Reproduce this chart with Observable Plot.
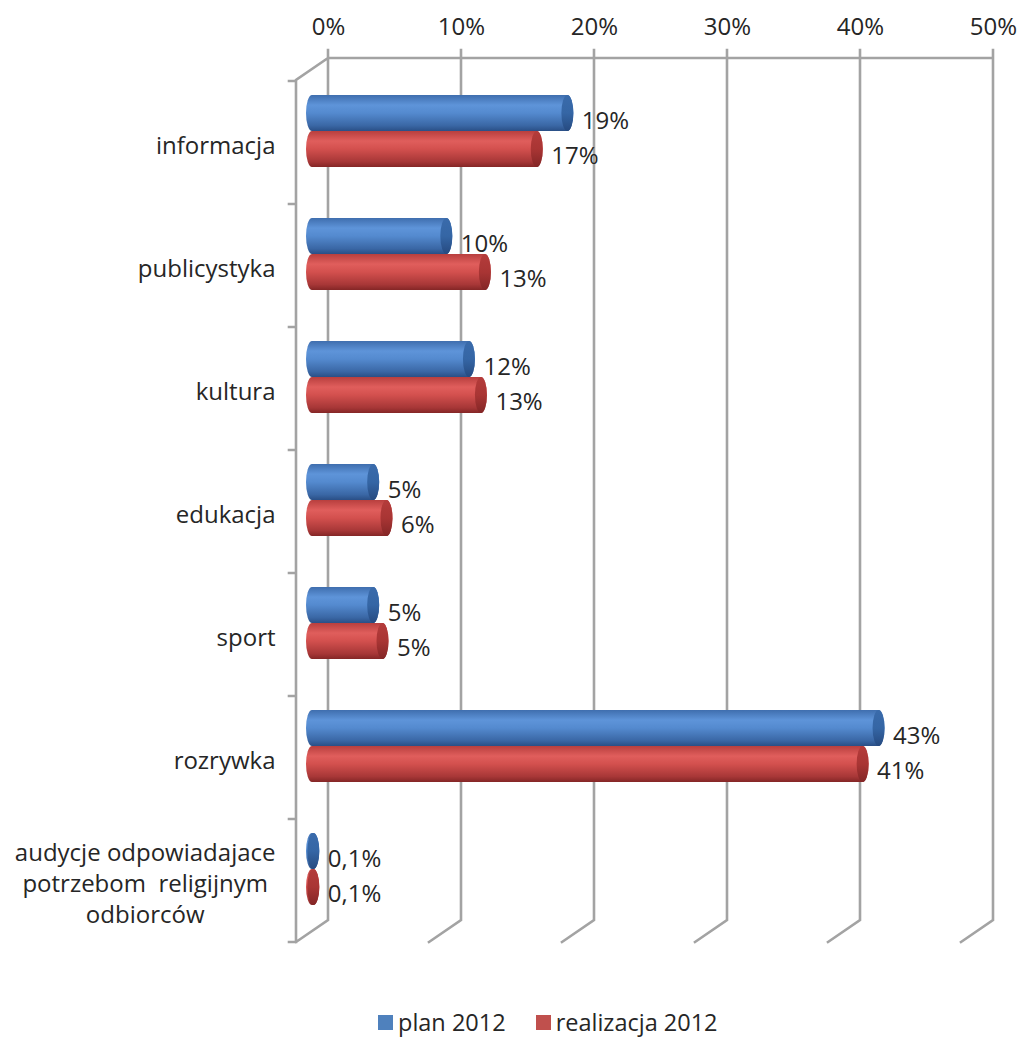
<!DOCTYPE html>
<html>
<head>
<meta charset="utf-8">
<script src="https://cdn.jsdelivr.net/npm/d3@7"></script>
<script src="https://cdn.jsdelivr.net/npm/@observablehq/plot@0.6"></script>
<style>
  html, body { margin: 0; padding: 0; background: #fff; overflow: hidden; }
  #wrap { position: relative; width: 1019px; height: 1037px; font-family: "Open Sans", sans-serif; }
  #legend { position: absolute; left: 0; top: 1008px; width: 1019px; height: 28px; display: flex; align-items: center;
            padding-left: 378px; box-sizing: border-box; font-size: 23.5px; color: #262626; line-height: 28px; }
  .item { display: flex; align-items: center; margin-right: 30px; }
  .item span { display: inline-block; height: 28px; line-height: 28px; }
  .sw { width: 15px; height: 15px; margin-right: 5px; }
</style>
</head>
<body>
<div id="wrap">
  <div id="chart"></div>
  <div id="legend"></div>
</div>
<script>
// ---- data ----
const categories = [
  "informacja",
  "publicystyka",
  "kultura",
  "edukacja",
  "sport",
  "rozrywka",
  "audycje odpowiadajace\npotrzebom  religijnym\nodbiorców"
];
const plan2012 = [19.2, 10.1, 11.8, 4.6, 4.6, 42.6, 0.1];
const realizacja2012 = [16.9, 13.0, 12.7, 5.6, 5.3, 41.4, 0.1];
const xTicks = [0, 10, 20, 30, 40, 50];
const seriesNames = ["plan 2012", "realizacja 2012"];
const seriesColors = ["#4f81bd", "#c0504d"];

// ---- helpers ----
const planRows = categories.map((c, i) => ({cat: c, v: plan2012[i]}));
const realRows = categories.map((c, i) => ({cat: c, v: realizacja2012[i]}));
const fmt = v => (v < 1 ? String(v).replace(".", ",") : String(Math.round(v))) + "%";

const DX = 16, DY = 11;       // half depth of the 3D box
const FONT = 24;
const TEXT = "#262626";
const GRID = "#a3a3a3";

function defsMark() {
  const defs = d3.create("svg:defs");
  const grad = (id, stops) => {
    const g = defs.append("linearGradient").attr("id", id)
      .attr("x1", 0).attr("y1", 0).attr("x2", 0).attr("y2", 1);
    stops.forEach(([o, c]) => g.append("stop").attr("offset", o).attr("stop-color", c));
  };
  grad("gBlue", [[0, "#3f6eae"], [0.28, "#5e94d9"], [0.5, "#548acf"], [0.85, "#3a67a5"], [1, "#2a4f86"]]);
  grad("gRed", [[0, "#b83f3e"], [0.28, "#e05e5c"], [0.5, "#d3504e"], [0.85, "#a73737"], [1, "#842626"]]);
  grad("gBlueCap", [[0, "#3a6bab"], [0.5, "#3566a5"], [1, "#264a80"]]);
  grad("gRedCap", [[0, "#b43c3b"], [0.5, "#a93534"], [1, "#832626"]]);
  return defs.node();
}

function frameMark(index, scales, values, dimensions) {
  const {x, y} = scales;
  const top = dimensions.marginTop;
  const bottom = dimensions.height - dimensions.marginBottom;
  const g = d3.create("svg:g")
    .attr("fill", "none").attr("stroke", GRID).attr("stroke-width", 2.6)
    .attr("stroke-linecap", "square");
  const x0 = x(xTicks[0]), xN = x(xTicks[xTicks.length - 1]);
  let d = "";
  d += `M${x0 + DX},${top - DY}H${xN + DX}`;
  for (const t of xTicks) {
    d += `M${x(t) + DX},${top - DY - 8}V${bottom - DY}L${x(t) - DX},${bottom + DY}`;
  }
  d += `M${x0 + DX},${top - DY}L${x0 - DX},${top + DY}V${bottom + DY}`;
  const bounds = categories.map(c => y(c)).concat([bottom]);
  for (const b of bounds) d += `M${x0 - DX - 7},${b + DY}H${x0 - DX}`;
  g.append("path").attr("d", d);
  return g.node();
}

const ctx = document.createElement("canvas").getContext("2d");
ctx.font = `${FONT}px "Open Sans"`;
const lastLines = categories[categories.length - 1].split("\n");
const maxW = Math.max(...lastLines.map(l => ctx.measureText(l).width));

const inset = {
  plan: {insetTop: 25, insetBottom: 62},
  real: {insetTop: 61, insetBottom: 26}
};
const cyl = {insetLeft: -6, insetRight: -6, rx: 6, ry: 18};

const chart = Plot.plot({
  width: 1019,
  height: 990,
  marginTop: 69,
  marginBottom: 59,
  marginLeft: 312,
  marginRight: 42,
  x: {domain: [0, 50], label: null},
  y: {domain: categories, padding: 0, axis: null, label: null},
  style: {fontFamily: '"Open Sans", sans-serif', fontSize: FONT + "px", color: TEXT, background: "white"},
  marks: [
    defsMark,
    frameMark,
    Plot.axisX({anchor: "top", ticks: xTicks, tickFormat: d => d + "%", tickSize: 0, label: null,
                tickPadding: 24, dx: DX, dy: -DY, fontSize: FONT, color: TEXT}),
    Plot.barX(planRows, {y: "cat", x: "v", ...inset.plan, ...cyl, fill: "url(#gBlue)"}),
    Plot.barX(planRows, {y: "cat", x1: "v", x2: "v", ...inset.plan, ...cyl, fill: "url(#gBlueCap)"}),
    Plot.barX(realRows, {y: "cat", x: "v", ...inset.real, ...cyl, fill: "url(#gRed)"}),
    Plot.barX(realRows, {y: "cat", x1: "v", x2: "v", ...inset.real, ...cyl, fill: "url(#gRedCap)"}),
    Plot.text(planRows, {y: "cat", x: "v", text: d => fmt(d.v), textAnchor: "start", dx: 14, dy: -11,
                         fontSize: FONT, fill: TEXT}),
    Plot.text(realRows, {y: "cat", x: "v", text: d => fmt(d.v), textAnchor: "start", dx: 14, dy: 24,
                         fontSize: FONT, fill: TEXT}),
    Plot.text(categories.slice(0, -1), {y: d => d, frameAnchor: "left", textAnchor: "end", dx: -37, dy: 14,
                                         fontSize: FONT, fill: TEXT}),
    Plot.text(categories.slice(-1), {y: d => d, frameAnchor: "left", textAnchor: "middle",
                                      dx: -37 - maxW / 2, dy: 12, lineHeight: 1.3, fontSize: FONT, fill: TEXT})
  ]
});
document.getElementById("chart").appendChild(chart);

const legend = d3.select("#legend");
seriesNames.forEach((name, i) => {
  const it = legend.append("div").attr("class", "item");
  it.append("div").attr("class", "sw").style("background", seriesColors[i]);
  it.append("span").text(name);
});
</script>
</body>
</html>
